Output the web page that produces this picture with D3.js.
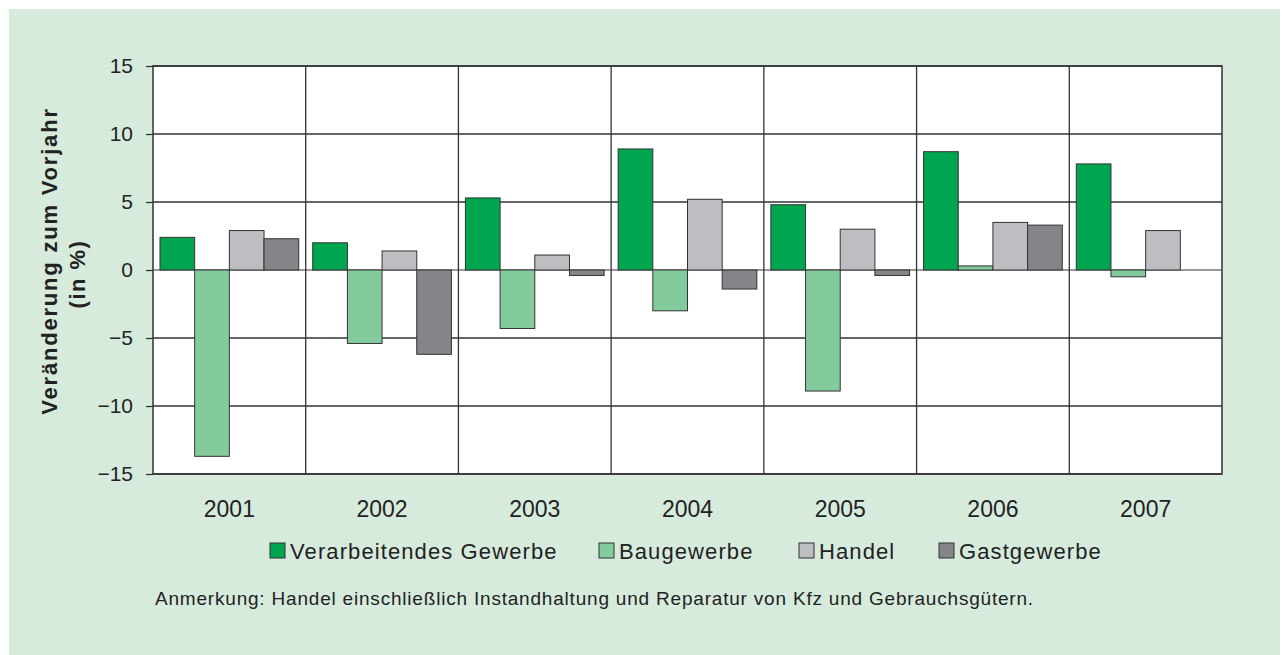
<!DOCTYPE html>
<html>
<head>
<meta charset="utf-8">
<script src="https://cdn.jsdelivr.net/npm/d3@7"></script>
<style>
  body { margin: 0; background: #fff; }
  text { font-family: "Liberation Sans", Arial, sans-serif; fill: #222; }
</style>
</head>
<body>
<div id="chart"></div>
<script>
// data
var years = ["2001", "2002", "2003", "2004", "2005", "2006", "2007"];
var seriesNames = ["Verarbeitendes Gewerbe", "Baugewerbe", "Handel", "Gastgewerbe"];
var verarbeitend = [2.4, 2.0, 5.3, 8.9, 4.8, 8.7, 7.8];
var bau = [-13.7, -5.4, -4.3, -3.0, -8.9, 0.3, -0.5];
var handel = [2.9, 1.4, 1.1, 5.2, 3.0, 3.5, 2.9];
var gast = [2.3, -6.2, -0.4, -1.4, -0.4, 3.3, null];
var yTicks = [-15, -10, -5, 0, 5, 10, 15];
var colors = ["#00a54f", "#83cb9c", "#bdbec2", "#848589"];

var allSeries = [verarbeitend, bau, handel, gast];

var svgWidth = 1282, svgHeight = 655;
var margin = { top: 66, right: 60, bottom: 181, left: 153 };
var width = svgWidth - margin.left - margin.right;
var height = svgHeight - margin.top - margin.bottom;

var svg = d3.select("#chart").append("svg")
  .attr("width", svgWidth)
  .attr("height", svgHeight);

// green panel behind everything
svg.append("rect")
  .attr("x", 9).attr("y", 9)
  .attr("width", 1271).attr("height", 646)
  .attr("fill", "#d7ebdd");

var chartGroup = svg.append("g")
  .attr("transform", `translate(${margin.left}, ${margin.top})`);

var x0 = d3.scaleBand().domain(years).range([0, width]);
var x1 = d3.scaleBand().domain(d3.range(4)).range([7, x0.bandwidth() - 7]);
var y = d3.scaleLinear().domain([-15, 15]).range([height, 0]);

chartGroup.append("rect")
  .attr("width", width).attr("height", height)
  .attr("fill", "#fff");

// horizontal grid
chartGroup.selectAll(".hgrid")
  .data(yTicks)
  .enter()
  .append("line")
  .attr("x1", 0).attr("x2", width)
  .attr("y1", d => y(d)).attr("y2", d => y(d))
  .attr("stroke", d => d === 0 ? "#777" : "#333")
  .attr("stroke-width", 1.3);

// vertical separators between years
chartGroup.selectAll(".vgrid")
  .data(years.slice(1))
  .enter()
  .append("line")
  .attr("x1", d => x0(d)).attr("x2", d => x0(d))
  .attr("y1", 0).attr("y2", height)
  .attr("stroke", "#333")
  .attr("stroke-width", 1.3);

// bars
var groups = chartGroup.selectAll(".year")
  .data(years)
  .enter()
  .append("g")
  .attr("transform", d => `translate(${x0(d)}, 0)`);

groups.selectAll("rect")
  .data((d, i) => allSeries.map((s, k) => ({ k: k, v: s[i] })).filter(e => e.v !== null))
  .enter()
  .append("rect")
  .attr("x", d => x1(d.k))
  .attr("width", x1.bandwidth())
  .attr("y", d => y(Math.max(0, d.v)))
  .attr("height", d => Math.abs(y(d.v) - y(0)))
  .attr("fill", d => colors[d.k])
  .attr("stroke", "#333")
  .attr("stroke-width", 1);

// frame
chartGroup.append("rect")
  .attr("width", width).attr("height", height)
  .attr("fill", "none")
  .attr("stroke", "#333")
  .attr("stroke-width", 1.5);

// y axis
var leftAxis = d3.axisLeft(y).tickValues(yTicks).tickSize(7).tickPadding(13)
  .tickFormat(d => d < 0 ? "\u2212" + Math.abs(d) : d);
var yAxis = chartGroup.append("g").call(leftAxis);
yAxis.select(".domain").remove();
yAxis.selectAll("line").attr("stroke", "#333").attr("stroke-width", 1.3);
yAxis.selectAll("text").style("font-size", "21px").attr("fill", "#222")
  .style("font-family", "'Liberation Sans', Arial, sans-serif");

// x labels
var bottomAxis = d3.axisBottom(x0).tickSize(0).tickPadding(27);
var xAxis = chartGroup.append("g")
  .attr("transform", `translate(0, ${height})`)
  .call(bottomAxis);
xAxis.select(".domain").remove();
xAxis.selectAll("text").style("font-size", "23px").attr("fill", "#222")
  .style("font-family", "'Liberation Sans', Arial, sans-serif");

// y title
svg.append("text")
  .attr("transform", "translate(57, 261) rotate(-90)")
  .attr("text-anchor", "middle")
  .style("font-size", "22px")
  .style("font-weight", "bold")
  .style("letter-spacing", "1.8px")
  .text("Veränderung zum Vorjahr");
svg.append("text")
  .attr("transform", "translate(85, 274) rotate(-90)")
  .attr("text-anchor", "middle")
  .style("font-size", "22px")
  .style("font-weight", "bold")
  .style("letter-spacing", "1.5px")
  .text("(in %)");

// legend
var legendX = [270, 599, 799, 939];
var legend = svg.selectAll(".legend")
  .data(seriesNames)
  .enter()
  .append("g")
  .attr("transform", (d, i) => `translate(${legendX[i]}, 543)`);

legend.append("rect")
  .attr("x", 0).attr("y", 0)
  .attr("width", 15).attr("height", 15)
  .attr("fill", (d, i) => colors[i])
  .attr("stroke", "#333")
  .attr("stroke-width", 1);

legend.append("text")
  .attr("x", 20).attr("y", 16)
  .style("font-size", "22px")
  .style("letter-spacing", "1.1px")
  .text(d => d);

// note
svg.append("text")
  .attr("x", 155).attr("y", 605)
  .style("font-size", "19px")
  .style("letter-spacing", "0.8px")
  .text("Anmerkung: Handel einschließlich Instandhaltung und Reparatur von Kfz und Gebrauchsgütern.");
</script>
</body>
</html>
